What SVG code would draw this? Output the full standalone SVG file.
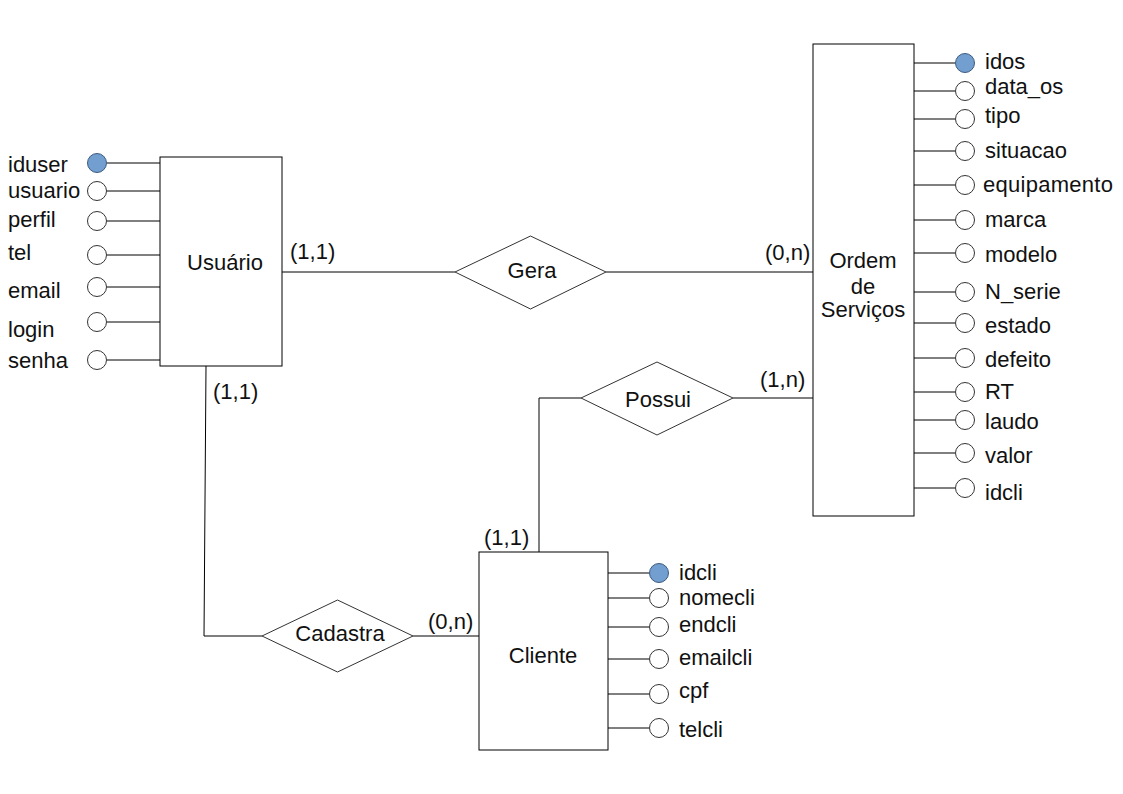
<svg xmlns="http://www.w3.org/2000/svg" width="1123" height="794" viewBox="0 0 1123 794">
<style>
text{font-family:"Liberation Sans",Arial,sans-serif;font-size:22px;fill:#111}
.ent{fill:#fff;stroke:#000;stroke-width:1}
.rel{fill:#fff;stroke:#333;stroke-width:1}
.ln{stroke:#000;stroke-width:1;fill:none}
.at{fill:#fff;stroke:#333;stroke-width:1}
.pk{fill:#729fcf;stroke:#3b5a80;stroke-width:1}
.c{text-anchor:middle}
</style>
<rect width="1123" height="794" fill="#fff"/>
<g id="connectors">
<path class="ln" d="M282 272H455M606 272H813"/>
<path class="ln" d="M733 398H813M581 398H539V552"/>
<path class="ln" d="M206 366L204 636H262M413 636H479"/>
</g>
<g id="usuario">
<rect class="ent" x="160" y="157" width="122" height="209"/>
<text class="c" x="225" y="270">Usuário</text>
<g class="ln"><path d="M107 163H160M107 191H160M107 221H160M107 255H160M107 287H160M107 322H160M107 360H160"/></g>
<circle class="pk" cx="97" cy="163" r="9.5"/>
<circle class="at" cx="97" cy="191" r="9.5"/>
<circle class="at" cx="97" cy="221" r="9.5"/>
<circle class="at" cx="97" cy="255" r="9.5"/>
<circle class="at" cx="97" cy="287" r="9.5"/>
<circle class="at" cx="97" cy="322" r="9.5"/>
<circle class="at" cx="97" cy="360" r="9.5"/>
<text x="8" y="172">iduser</text>
<text x="8" y="198">usuario</text>
<text x="8" y="227">perfil</text>
<text x="8" y="260">tel</text>
<text x="8" y="298">email</text>
<text x="8" y="337">login</text>
<text x="8" y="368">senha</text>
</g>
<g id="ordem">
<rect class="ent" x="813" y="44" width="101" height="472"/>
<text class="c" x="863" y="268">Ordem</text>
<text class="c" x="863" y="294">de</text>
<text class="c" x="863" y="317">Serviços</text>
<g class="ln"><path d="M914 63H955M914 91H955M914 119H955M914 151H955M914 185H955M914 220H955M914 253H955M914 292H955M914 323H955M914 358H955M914 392H955M914 420H955M914 453H955M914 488H955"/></g>
<circle class="pk" cx="965" cy="63" r="9.5"/>
<circle class="at" cx="965" cy="91" r="9.5"/>
<circle class="at" cx="965" cy="119" r="9.5"/>
<circle class="at" cx="965" cy="151" r="9.5"/>
<circle class="at" cx="965" cy="185" r="9.5"/>
<circle class="at" cx="965" cy="220" r="9.5"/>
<circle class="at" cx="965" cy="253" r="9.5"/>
<circle class="at" cx="965" cy="292" r="9.5"/>
<circle class="at" cx="965" cy="323" r="9.5"/>
<circle class="at" cx="965" cy="358" r="9.5"/>
<circle class="at" cx="965" cy="392" r="9.5"/>
<circle class="at" cx="965" cy="420" r="9.5"/>
<circle class="at" cx="965" cy="453" r="9.5"/>
<circle class="at" cx="965" cy="488" r="9.5"/>
<text x="985" y="69">idos</text>
<text x="985" y="94">data_os</text>
<text x="985" y="123">tipo</text>
<text x="985" y="158">situacao</text>
<text x="983" y="192" textLength="130">equipamento</text>
<text x="985" y="227">marca</text>
<text x="985" y="262">modelo</text>
<text x="985" y="299">N_serie</text>
<text x="985" y="333">estado</text>
<text x="985" y="367">defeito</text>
<text x="985" y="399">RT</text>
<text x="985" y="429">laudo</text>
<text x="985" y="463">valor</text>
<text x="985" y="500">idcli</text>
</g>
<g id="cliente">
<rect class="ent" x="479" y="552" width="129" height="198"/>
<text class="c" x="543" y="663">Cliente</text>
<g class="ln"><path d="M608 573H649M608 598H649M608 627H649M608 659H649M608 694H649M608 728H649"/></g>
<circle class="pk" cx="659" cy="573" r="9.5"/>
<circle class="at" cx="659" cy="598" r="9.5"/>
<circle class="at" cx="659" cy="627" r="9.5"/>
<circle class="at" cx="659" cy="659" r="9.5"/>
<circle class="at" cx="659" cy="694" r="9.5"/>
<circle class="at" cx="659" cy="728" r="9.5"/>
<text x="679" y="580">idcli</text>
<text x="679" y="605">nomecli</text>
<text x="679" y="632">endcli</text>
<text x="679" y="665">emailcli</text>
<text x="679" y="698">cpf</text>
<text x="679" y="737">telcli</text>
</g>
<g id="gera">
<polygon class="rel" points="455,272 530.5,236 606,272 530.5,309"/>
<text class="c" x="532" y="278">Gera</text>
</g>
<g id="possui">
<polygon class="rel" points="581,398 657,362 733,398 657,435"/>
<text class="c" x="658" y="407">Possui</text>
</g>
<g id="cadastra">
<polygon class="rel" points="262,636 337.5,600 413,636 337.5,672"/>
<text class="c" x="340" y="641">Cadastra</text>
</g>
<g id="cardinalities">
<text x="290" y="259">(1,1)</text>
<text x="765" y="260">(0,n)</text>
<text x="760" y="387">(1,n)</text>
<text x="213" y="399">(1,1)</text>
<text x="484" y="545">(1,1)</text>
<text x="428" y="629">(0,n)</text>
</g>
</svg>
